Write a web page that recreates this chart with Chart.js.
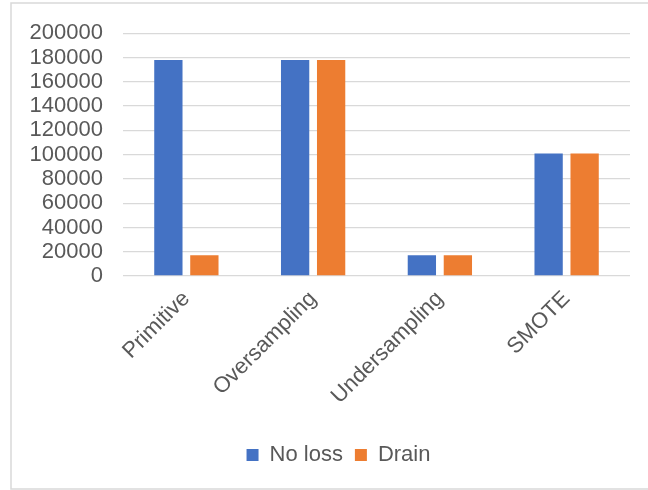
<!DOCTYPE html>
<html>
<head>
<meta charset="utf-8">
<script src="https://cdn.jsdelivr.net/npm/chart.js@4.4.1/dist/chart.umd.min.js"></script>
<style>
  html, body { margin: 0; padding: 0; background: #ffffff; }
  #wrap { width: 648px; height: 490px; position: relative; }
</style>
</head>
<body>
<div id="wrap"><canvas id="c" width="648" height="490"></canvas></div>
<script>
// Sampling strategies compared
const categories = ['Primitive', 'Oversampling', 'Undersampling', 'SMOTE'];
// Sample counts per strategy
const noLoss = [178000, 178000, 17000, 101000];
const drain  = [17000, 178000, 17000, 101000];
// Value axis range
const yMin = 0;
const yMax = 200000;
const yStep = 20000;

const textColor = '#595959';
const gridColor = '#d9d9d9';
const fontFamily = '"Liberation Sans", Arial, sans-serif';

// Light frame around the whole chart
const framePlugin = {
  id: 'frame',
  beforeDraw(chart) {
    const ctx = chart.ctx;
    ctx.save();
    ctx.fillStyle = '#ffffff';
    ctx.fillRect(0, 0, chart.width, chart.height);
    ctx.strokeStyle = gridColor;
    ctx.lineWidth = 1.5;
    ctx.strokeRect(11, 3, chart.width + 20, chart.height - 4);
    ctx.restore();
  }
};

// Nudge the legend so it sits centred under the frame
const legendShift = {
  id: 'legendShift',
  afterLayout(chart) {
    const lg = chart.legend;
    if (!lg) return;
    const dx = 18;
    lg.left += dx;
    lg.right += dx;
    if (lg.legendHitBoxes) lg.legendHitBoxes.forEach(b => { b.left += dx; });
  }
};

new Chart(document.getElementById('c'), {
  type: 'bar',
  data: {
    labels: categories,
    datasets: [
      { label: 'No loss', data: noLoss, backgroundColor: '#4472C4',
        categoryPercentage: 0.568, barPercentage: 0.786 },
      { label: 'Drain', data: drain, backgroundColor: '#ED7D31',
        categoryPercentage: 0.568, barPercentage: 0.786 }
    ]
  },
  options: {
    responsive: false,
    animation: false,
    devicePixelRatio: 1,
    layout: { padding: { left: 11, right: 18, top: 32, bottom: 14 } },
    plugins: {
      legend: {
        position: 'bottom',
        labels: {
          boxWidth: 12, boxHeight: 12, padding: 12,
          color: textColor,
          font: { family: fontFamily, size: 22 }
        }
      },
      tooltip: { enabled: false }
    },
    scales: {
      x: {
        grid: { display: false, drawTicks: false },
        border: { display: false },
        ticks: {
          color: textColor, padding: 10,
          minRotation: 45, maxRotation: 45,
          font: { family: fontFamily, size: 22 }
        },
        afterFit(scale) { scale.height = 156; }
      },
      y: {
        min: yMin, max: yMax,
        grid: { color: gridColor, lineWidth: 1.3, drawTicks: false },
        border: { display: false },
        ticks: {
          stepSize: yStep, color: textColor, padding: 20,
          autoSkip: false,
          font: { family: fontFamily, size: 22 },
          callback: v => String(v)
        },
        afterFit(scale) { scale.width = 112; }
      }
    }
  },
  plugins: [framePlugin, legendShift]
});
</script>
</body>
</html>
